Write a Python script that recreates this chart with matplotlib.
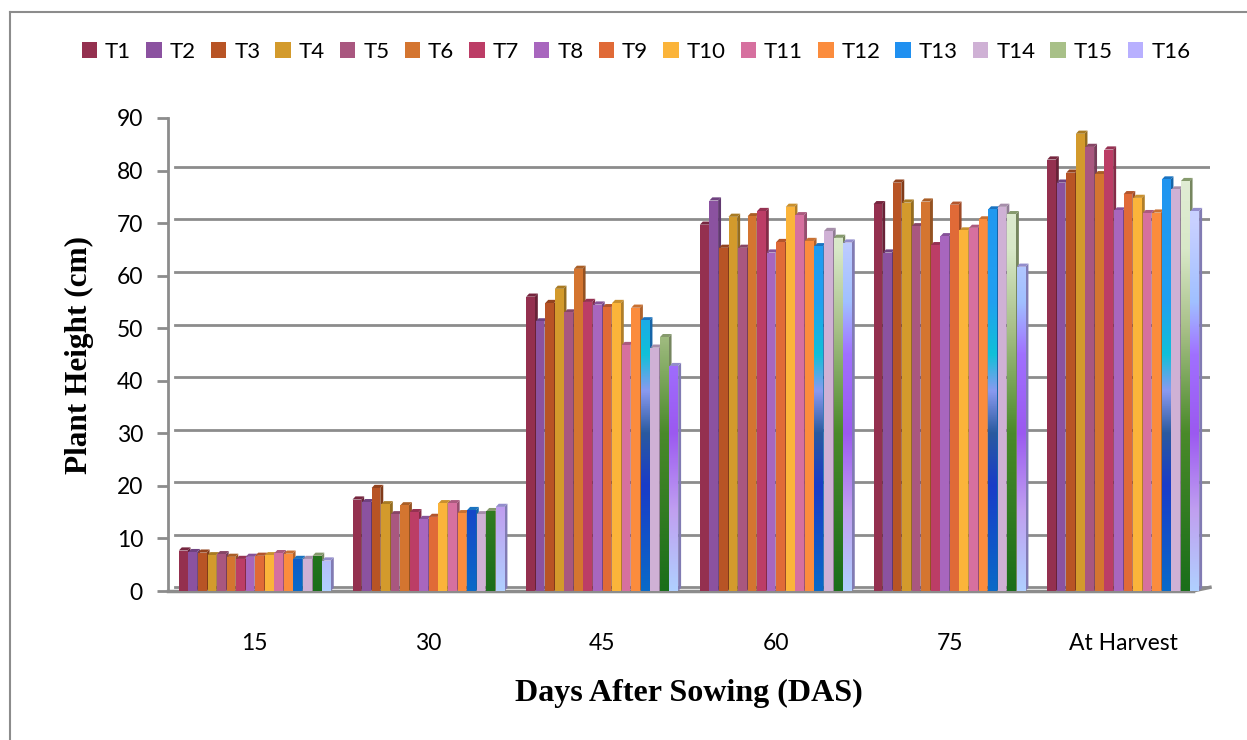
import numpy as np
import matplotlib
matplotlib.use('Agg')
import matplotlib.pyplot as plt
from matplotlib.patches import Rectangle, Polygon, Patch
from matplotlib.colors import LinearSegmentedColormap, to_rgb
from matplotlib.lines import Line2D

# Data
groups = ['15', '30', '45', '60', '75', 'At Harvest']
treatments = ['T%d' % i for i in range(1, 17)]
heights = [
    [7.7, 17.4, 56.0, 69.7, 73.6, 82.1],   # T1
    [7.4, 16.9, 51.3, 74.3, 64.4, 77.7],   # T2
    [7.3, 19.6, 54.8, 65.3, 77.7, 79.6],   # T3
    [6.8, 16.5, 57.5, 71.2, 73.9, 87.0],   # T4
    [7.0, 14.6, 53.0, 65.3, 69.4, 84.5],   # T5
    [6.5, 16.3, 61.3, 71.3, 74.1, 79.3],   # T6
    [6.1, 15.0, 55.0, 72.3, 65.8, 84.0],   # T7
    [6.5, 13.7, 54.5, 64.4, 67.5, 72.4],   # T8
    [6.7, 14.1, 54.0, 66.4, 73.5, 75.5],   # T9
    [6.8, 16.7, 54.8, 73.1, 68.6, 74.8],   # T10
    [7.2, 16.7, 46.8, 71.5, 69.1, 71.9],   # T11
    [7.1, 14.8, 53.9, 66.6, 70.7, 72.0],   # T12
    [6.1, 15.4, 51.5, 65.6, 72.6, 78.3],   # T13
    [6.1, 14.6, 46.3, 68.5, 73.1, 76.4],   # T14
    [6.7, 15.2, 48.3, 67.2, 71.7, 78.0],   # T15
    [5.8, 16.0, 42.8, 66.3, 61.7, 72.3],   # T16
]
colors = ['#94304F', '#8B52A0', '#B85425', '#D39A2C', '#A9577F', '#D47530',
          '#BC3D66', '#A866BE', '#E06A37', '#FBB43A', '#D6709F', '#FB8C3D',
          '#2090F0', '#CFB1D5', '#A8C088', '#B8B0FF']

# gradient fills (value -> colour) for T13, T15, T16
gradients = {
    12: [(0, '#0a6ac8'), (20, '#1a3cc8'), (30, '#2a5aa0'), (38, '#8a9af0'),
         (45, '#10c0d8'), (55, '#20a0f0'), (90, '#2090f0')],
    14: [(0, '#1a6e1a'), (30, '#4a8a2a'), (50, '#a8c088'), (65, '#d8e8c8'),
         (90, '#e8f0e0')],
    15: [(0, '#b0d0ff'), (15, '#c0a0f0'), (30, '#9b59f0'), (45, '#a070ff'),
         (55, '#a0c0ff'), (70, '#c8d0ff'), (90, '#d0d8ff')],
}

def shade(c, f):
    r, g, b = to_rgb(c)
    return (r * f, g * f, b * f)

fig = plt.figure(figsize=(12.47, 7.40), dpi=100)
ax = fig.add_axes([168 / 1247, 1 - 591 / 740, 1042 / 1247, 473 / 740])

bw = 0.05
dx = 0.017
dy = 0.6
x = np.arange(len(groups))
offsets = (np.arange(16) - 7.5) * (bw + 0.005)

for i in range(16):
    for j, v in enumerate(heights[i]):
        x0 = x[j] + offsets[i] - bw / 2
        c = colors[i]
        # side and top faces
        ax.add_patch(Polygon([[x0 + bw, 0], [x0 + bw + dx, dy], [x0 + bw + dx, v + dy], [x0 + bw, v]],
                             closed=True, facecolor=shade(c, 0.7), edgecolor='none', zorder=3))
        ax.add_patch(Polygon([[x0, v], [x0 + dx, v + dy], [x0 + bw + dx, v + dy], [x0 + bw, v]],
                             closed=True, facecolor=shade(c, 0.8), edgecolor='none', zorder=3))
        rect = Rectangle((x0, 0), bw, v, facecolor=c, edgecolor='none', zorder=4)
        ax.add_patch(rect)
        if i in gradients:
            stops = gradients[i]
            cmap = LinearSegmentedColormap.from_list('g%d' % i, [(s / 90, col) for s, col in stops])
            grad = np.linspace(0, 1, 256).reshape(-1, 1)
            im = ax.imshow(grad, cmap=cmap, origin='lower', aspect='auto',
                           extent=[x0, x0 + bw, 0, 90], zorder=5)
            im.set_clip_path(rect)

ax.set_xlim(-0.5, 5.5)
ax.set_ylim(0, 90)
ax.set_yticks(range(0, 91, 10))
ax.set_xticks(x)
ax.set_xticklabels(groups)
for yv in range(10, 91, 10):
    ax.plot([-0.46, 5.5], [yv + 0.7, yv + 0.7], color='#8c8c8c', lw=2, zorder=1)
ax.plot([-0.46, 5.5], [0.7, 0.7], color='#8c8c8c', lw=2, zorder=1)
ax.plot([-0.5, 5.4], [0, 0], color='#8c8c8c', lw=2.5, zorder=2, clip_on=False)
ax.plot([5.4, 5.5], [0, 0.7], color='#8c8c8c', lw=2.5, zorder=2, clip_on=False)

for s in ['top', 'right', 'bottom']:
    ax.spines[s].set_visible(False)
ax.spines['left'].set_color('#8c8c8c')
ax.spines['left'].set_linewidth(2)
ax.tick_params(axis='y', color='#8c8c8c', width=2, length=8, labelsize=16.5, pad=10)
ax.tick_params(axis='x', length=0, labelsize=16.5, pad=30)
for t in ax.get_xticklabels() + ax.get_yticklabels():
    t.set_fontfamily('Lato')
ax.set_xlim(-0.5, 5.5)

ax.set_xlabel('Days After Sowing (DAS)', fontfamily='Liberation Serif', fontweight='bold',
              fontsize=23, labelpad=18)
ax.set_ylabel('Plant Height (cm)', fontfamily='Liberation Serif', fontweight='bold',
              fontsize=22.5, labelpad=16)

handles = []
for i in range(16):
    fc = colors[i]
    handles.append(Patch(facecolor=fc, edgecolor='none'))
fig.legend(handles, treatments, loc='center', bbox_to_anchor=(0.51, 0.93), ncol=16,
           frameon=False, handlelength=0.7, handleheight=0.7, handletextpad=0.35,
           columnspacing=0.68, prop={'family': 'Lato', 'size': 16})

# outer frame
fig.add_artist(Line2D([10 / 1247, 10 / 1247], [0, 1 - 12 / 740], color='#8c8c8c', lw=1.5))
fig.add_artist(Line2D([10 / 1247, 1], [1 - 12 / 740, 1 - 12 / 740], color='#8c8c8c', lw=1.5))

fig.savefig('out.png', dpi=100)
